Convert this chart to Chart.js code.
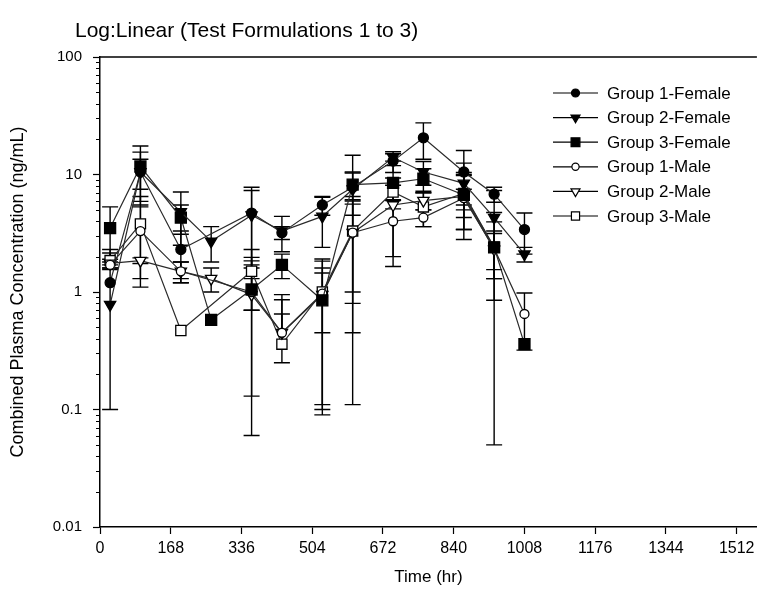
<!DOCTYPE html>
<html>
<head>
<meta charset="utf-8">
<script src="https://cdn.jsdelivr.net/npm/chart.js@4.4.1/dist/chart.umd.min.js"></script>
<style>
html, body { margin: 0; padding: 0; background: #fff; }
</style>
</head>
<body>
<canvas id="c" width="766" height="604"></canvas>
<script>
// sampling times (hr)
const times = [24, 96, 192, 264, 360, 432, 528, 600, 696, 768, 864, 936, 1008];

// mean concentrations (ng/mL), null = not reported
const g1Female = [1.2, 10.5, 2.3, null, 4.7, 3.2, 5.5, 7.8, 13, 20.5, 10.5, 6.8, 3.4];
const g2Female = [0.78, 10.5, 4.8, 2.7, 4.5, 3.3, 4.4, 7.5, 14, 10.5, 8.4, 4.3, 2.1];
const g3Female = [3.5, 11.7, 4.3, 0.58, 1.05, 1.7, 0.85, 8.2, 8.5, 9.2, 6.7, 2.4, 0.36];
const g1Male = [1.7, 3.3, 1.5, null, 1.0, 0.45, 0.97, 3.2, 4.0, 4.3, 6.3, 2.35, 0.65];
const g2Male = [1.75, 1.85, 1.5, 1.3, 0.95, 0.45, 0.95, 3.2, 5.5, 6.0, 6.5, 2.3, null];
const g3Male = [1.85, 3.8, 0.47, null, 1.5, 0.36, 1.0, 3.3, 7.1, 5.3, 6.9, 2.4, null];

// standard deviations
const g1FemaleSd = [1.1, 5.0, 1.0, null, 3.1, 0.4, 1.0, 6.8, 2.6, 7.0, 5.5, 1.0, 1.3];
const g2FemaleSd = [0, 3.0, 2.3, 0.9, 2.8, 1.1, 2.0, 3.0, 1.0, 2.4, 4.1, 3.0, 0.3];
const g3FemaleSd = [1.8, 5.8, 1.2, 0, 0.92, 0.4, 0.75, 2.1, 3.4, 2.0, 3.3, 1.55, 0];
const g1MaleSd = [0.1, 2.0, 0.3, null, 0.3, 0.5, 0.86, 2.75, 2.0, 0.7, 3.5, 0.8, 0.33];
const g2MaleSd = [0.15, 0.1, 0.3, 0.3, 0.89, 0.2, 0.5, 2.4, 3.85, 1.0, 1.0, 1.0, null];
const g3MaleSd = [0.3, 2.7, 0, null, 0.8, 0.5, 0.91, 3.19, 1.0, 1.7, 3.5, 2.35, null];

const seriesNames = ['Group 1-Female', 'Group 2-Female', 'Group 3-Female', 'Group 1-Male', 'Group 2-Male', 'Group 3-Male'];

const yTickLabels = ['0.01', '0.1', '1', '10', '100'];
const xTickMax = 1512;

const FONT = "'Liberation Sans', Arial, sans-serif";

function mk(values) {
    return values.map((v, i) => ({ x: times[i], y: v }));
}

// marker looks: [pointStyle, rotation, radius, filled]
const markers = [
    ['circle', 0, 5, true],
    ['triangle', 180, 6.5, true],
    ['rect', 0, 7.8, true],
    ['circle', 0, 4.5, false],
    ['triangle', 180, 6.5, false],
    ['rect', 0, 7.2, false]
];
const allValues = [g1Female, g2Female, g3Female, g1Male, g2Male, g3Male];
const allSd = [g1FemaleSd, g2FemaleSd, g3FemaleSd, g1MaleSd, g2MaleSd, g3MaleSd];

const datasets = allValues.map((vals, i) => ({
    label: seriesNames[i],
    data: mk(vals),
    sd: allSd[i],
    borderColor: '#2a2a2a',
    borderWidth: 1.2,
    pointStyle: markers[i][0],
    rotation: markers[i][1],
    pointRadius: markers[i][2],
    pointBackgroundColor: markers[i][3] ? '#000' : '#fff',
    pointBorderColor: '#000',
    pointBorderWidth: 1.3,
    spanGaps: true,
    tension: 0
}));

function drawMarker(ctx, i, x, y, scale) {
    let [style, rot, r, filled] = markers[i];
    r = r * scale;
    ctx.save();
    ctx.beginPath();
    if (style == 'circle') {
        ctx.arc(x, y, r, 0, Math.PI * 2);
    } else if (style == 'triangle') {
        let w = r * Math.sqrt(3) / 2;
        ctx.moveTo(x, y + r);
        ctx.lineTo(x - w, y - r / 2);
        ctx.lineTo(x + w, y - r / 2);
        ctx.closePath();
    } else {
        let s = r * Math.SQRT1_2;
        ctx.rect(x - s, y - s, 2 * s, 2 * s);
    }
    ctx.fillStyle = filled ? '#000' : '#fff';
    ctx.fill();
    ctx.lineWidth = 1.2;
    ctx.strokeStyle = '#000';
    ctx.stroke();
    ctx.restore();
}

const errorBars = {
    id: 'errorBars',
    beforeDatasetsDraw(chart) {
        const ctx = chart.ctx;
        const xs = chart.scales.x, ys = chart.scales.y;
        ctx.save();
        ctx.strokeStyle = '#000';
        ctx.lineWidth = 1.4;
        chart.data.datasets.forEach(ds => {
            ds.data.forEach((p, j) => {
                const sd = ds.sd[j];
                if (p.y == null || !sd) return;
                const x = xs.getPixelForValue(p.x);
                const yMid = ys.getPixelForValue(p.y);
                const yTop = ys.getPixelForValue(p.y + sd);
                const lo = p.y - sd;
                const yBot = lo > 0 ? ys.getPixelForValue(lo) : yMid;
                ctx.beginPath();
                ctx.moveTo(x, yTop); ctx.lineTo(x, yBot);
                ctx.moveTo(x - 8, yTop); ctx.lineTo(x + 8, yTop);
                if (lo > 0) { ctx.moveTo(x - 8, yBot); ctx.lineTo(x + 8, yBot); }
                ctx.stroke();
            });
        });
        ctx.restore();
    },
    afterDraw(chart) {
        const ctx = chart.ctx;
        const a = chart.chartArea;
        const ys = chart.scales.y;
        ctx.save();
        // top frame line
        ctx.strokeStyle = '#000';
        ctx.lineWidth = 1.5;
        ctx.beginPath();
        ctx.moveTo(a.left, a.top); ctx.lineTo(a.right, a.top);
        ctx.stroke();
        // minor log ticks
        ctx.lineWidth = 1;
        ctx.beginPath();
        for (let e = -2; e < 2; e++) {
            for (let m = 2; m <= 9; m++) {
                const y = Math.round(ys.getPixelForValue(m * Math.pow(10, e))) + 0.5;
                ctx.moveTo(a.left - 4, y); ctx.lineTo(a.left, y);
            }
        }
        ctx.stroke();
        // title
        ctx.fillStyle = '#000';
        ctx.font = '21px ' + FONT;
        ctx.textBaseline = 'middle';
        ctx.textAlign = 'left';
        ctx.fillText('Log:Linear (Test Formulations 1 to 3)', 75, 31);
        // legend
        ctx.font = '17px ' + FONT;
        seriesNames.forEach((name, i) => {
            const y = 93 + i * 24.6;
            ctx.strokeStyle = '#000';
            ctx.lineWidth = 1.2;
            ctx.beginPath();
            ctx.moveTo(553, y); ctx.lineTo(598, y);
            ctx.stroke();
            drawMarker(ctx, i, 575.5, y, 0.8);
            ctx.fillStyle = '#000';
            ctx.fillText(name, 607, y + 1);
        });
        ctx.restore();
    }
};

new Chart(document.getElementById('c'), {
    type: 'line',
    data: { datasets: datasets },
    options: {
        responsive: false,
        animation: false,
        devicePixelRatio: 1,
        layout: { padding: { top: 57, right: 0, left: 0, bottom: 0 } },
        plugins: {
            legend: { display: false },
            tooltip: { enabled: false }
        },
        scales: {
            x: {
                type: 'linear',
                min: 0,
                max: 1560,
                afterFit(scale) { scale.height = 77; },
                border: { display: true, color: '#000', width: 1.5 },
                grid: { display: true, drawOnChartArea: false, color: '#000', tickLength: 7, tickWidth: 1.2 },
                ticks: {
                    stepSize: 168,
                    includeBounds: false,
                    color: '#000',
                    padding: 5,
                    maxRotation: 0,
                    font: { family: FONT, size: 16 },
                    callback: v => v <= xTickMax ? String(v) : ''
                },
                title: {
                    display: true,
                    text: 'Time (hr)',
                    color: '#000',
                    font: { family: FONT, size: 17 },
                    padding: { top: 0, bottom: 16 }
                }
            },
            y: {
                type: 'logarithmic',
                min: 0.01,
                max: 100,
                afterFit(scale) { scale.width = 100; },
                border: { display: true, color: '#000', width: 1.5 },
                grid: {
                    display: true,
                    drawOnChartArea: false,
                    tickLength: 7,
                    tickWidth: 1.2,
                    tickColor: c => {
                        const l = Math.log10(c.tick.value);
                        return Math.abs(l - Math.round(l)) < 1e-6 ? '#000' : 'rgba(0,0,0,0)';
                    }
                },
                ticks: {
                    autoSkip: false,
                    color: '#000',
                    padding: 11,
                    font: { family: FONT, size: 15 },
                    callback: v => {
                        const l = Math.log10(v);
                        if (Math.abs(l - Math.round(l)) < 1e-6) return yTickLabels[Math.round(l) + 2];
                        return '';
                    }
                },
                title: {
                    display: true,
                    text: 'Combined Plasma Concentration (ng/mL)',
                    color: '#000',
                    font: { family: FONT, size: 18 },
                    padding: { top: 7, bottom: 8 }
                }
            }
        }
    },
    plugins: [errorBars]
});
</script>
</body>
</html>
